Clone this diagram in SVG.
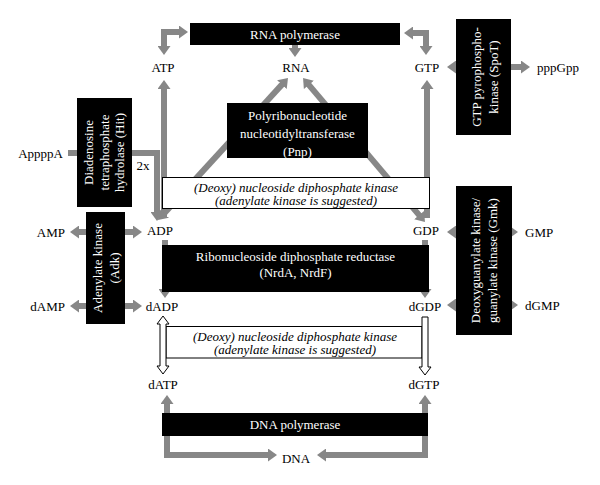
<svg xmlns="http://www.w3.org/2000/svg" width="600" height="485" viewBox="0 0 600 485">
<style>
text{font-family:'Liberation Serif','Tinos','DejaVu Serif',serif;font-size:13px;fill:#000}
.w{fill:#fff}
.i{font-style:italic}
.m{text-anchor:middle}
.e{text-anchor:end}
.blk{fill:#000}
.wb{fill:#fff;stroke:#000;stroke-width:1}
.c{fill:none;stroke:#878787;stroke-width:6}
.h{fill:#fff;stroke:#000;stroke-width:1}
</style>
<defs>
<marker id="ah" viewBox="0 0 9 13" markerWidth="9" markerHeight="13" refX="1" refY="6.5" markerUnits="userSpaceOnUse" orient="auto-start-reverse">
<path d="M0,0 L9,6.5 L0,13 z" fill="#878787"/>
</marker>
</defs>
<rect width="600" height="485" fill="#fff"/>
<g id="connectors">
<path class="c" d="M164,47 V32 H180" marker-start="url(#ah)" marker-end="url(#ah)"/>
<path class="c" d="M426,47 V33 H412" marker-start="url(#ah)" marker-end="url(#ah)"/>
<path class="c" d="M295,45 V49" marker-end="url(#ah)"/>
<path class="c" d="M164,218 V88" marker-end="url(#ah)"/>
<path class="c" d="M427,218 V88" marker-end="url(#ah)"/>
<path class="c" d="M163.4,214.1 L282.6,83.9" marker-start="url(#ah)" marker-end="url(#ah)"/>
<path class="c" d="M308.2,84.1 L419.8,215.9" marker-start="url(#ah)" marker-end="url(#ah)"/>
<path class="c" d="M68,153 H157 V213" marker-end="url(#ah)"/>
<path class="c" d="M78,232 H134" marker-start="url(#ah)" marker-end="url(#ah)"/>
<path class="c" d="M78,306 H134" marker-start="url(#ah)" marker-end="url(#ah)"/>
<path class="c" d="M165,240 V290" marker-end="url(#ah)"/>
<path class="c" d="M425,240 V290" marker-end="url(#ah)"/>
<path class="c" d="M455,232 H510" marker-start="url(#ah)" marker-end="url(#ah)"/>
<path class="c" d="M455,305 H510" marker-start="url(#ah)" marker-end="url(#ah)"/>
<path class="c" d="M455,67 H522" marker-start="url(#ah)" marker-end="url(#ah)"/>
<path class="c" d="M167,403 V455 H269" marker-start="url(#ah)" marker-end="url(#ah)"/>
<path class="c" d="M425,403 V455 H325" marker-start="url(#ah)" marker-end="url(#ah)"/>
</g>
<g id="rnapol"><rect class="blk" x="190" y="23" width="210" height="22"/><text class="w m" x="295" y="38.5">RNA polymerase</text></g>
<g id="pnp"><rect class="blk" x="227" y="103" width="141" height="55"/>
<text class="w m" x="297.5" y="119.5">Polyribonucleotide</text>
<text class="w m" x="297.5" y="137.5">nucleotidyltransferase</text>
<text class="w m" x="297.5" y="156">(Pnp)</text></g>
<g id="ndk1"><rect class="wb" x="162.5" y="177.5" width="267" height="31"/>
<text class="i m" x="296" y="191.5">(Deoxy) nucleoside diphosphate kinase</text>
<text class="i m" x="296" y="205">(adenylate kinase is suggested)</text></g>
<g id="hit"><rect class="blk" x="77" y="98" width="55" height="109"/>
<g transform="translate(104.5,152.5) rotate(-90)">
<text class="w m" x="0" y="-11.5">Diadenosine</text>
<text class="w m" x="0" y="4">tetraphosphate</text>
<text class="w m" x="0" y="19.5">hydrolase (Hit)</text></g></g>
<g id="adk"><rect class="blk" x="86" y="212" width="39" height="112"/>
<g transform="translate(105.5,268) rotate(-90)">
<text class="w m" x="0" y="-4">Adenylate kinase</text>
<text class="w m" x="0" y="13">(Adk)</text></g></g>
<g id="nrd"><rect class="blk" x="162" y="245" width="267" height="47"/>
<text class="w m" x="295.5" y="261">Ribonucleoside diphosphate reductase</text>
<text class="w m" x="295.5" y="277">(NrdA, NrdF)</text></g>
<g id="gmk"><rect class="blk" x="456" y="186" width="56" height="149"/>
<g transform="translate(484,260.5) rotate(-90)">
<text class="w m" x="0" y="-4">Deoxyguanylate kinase/</text>
<text class="w m" x="0" y="12.5">guanylate kinase (Gmk)</text></g></g>
<g id="spot"><rect class="blk" x="456" y="19" width="55" height="116"/>
<g transform="translate(483.5,77) rotate(-90)">
<text class="w m" x="0" y="-2.5">GTP pyrophospho-</text>
<text class="w m" x="0" y="14">kinase (SpoT)</text></g></g>
<g id="ndk2"><rect class="wb" x="166" y="326.5" width="256" height="31.5"/>
<text class="i m" x="295" y="340.5">(Deoxy) nucleoside diphosphate kinase</text>
<text class="i m" x="295" y="354">(adenylate kinase is suggested)</text>
<polygon class="h" points="163,316 169,324 166,324 166,366 169,366 163,374 157,366 160,366 160,324 157,324"/>
<polygon class="h" points="422,317 428,317 428,367 431,367 425,375 419,367 422,367"/></g>
<g id="dnapol"><rect class="blk" x="162" y="413" width="266" height="23"/><text class="w m" x="295" y="428.5">DNA polymerase</text></g>
<g id="labels">
<text class="m" x="163" y="71.5">ATP</text>
<text class="m" x="296" y="71.5">RNA</text>
<text class="m" x="427" y="71.5">GTP</text>
<text x="537" y="71.5">pppGpp</text>
<text class="e" x="63" y="157.5">AppppA</text>
<text class="m" x="143" y="170">2x</text>
<text class="m" x="160" y="234.5">ADP</text>
<text class="m" x="426" y="234.5">GDP</text>
<text class="e" x="65" y="236.5">AMP</text>
<text x="525" y="236.5">GMP</text>
<text class="e" x="65" y="310.5">dAMP</text>
<text x="525" y="309.5">dGMP</text>
<text class="m" x="162" y="310.5">dADP</text>
<text class="m" x="425" y="310.5">dGDP</text>
<text class="m" x="163" y="388.5">dATP</text>
<text class="m" x="424" y="388.5">dGTP</text>
<text class="m" x="296" y="462.5">DNA</text>
</g>
</svg>
